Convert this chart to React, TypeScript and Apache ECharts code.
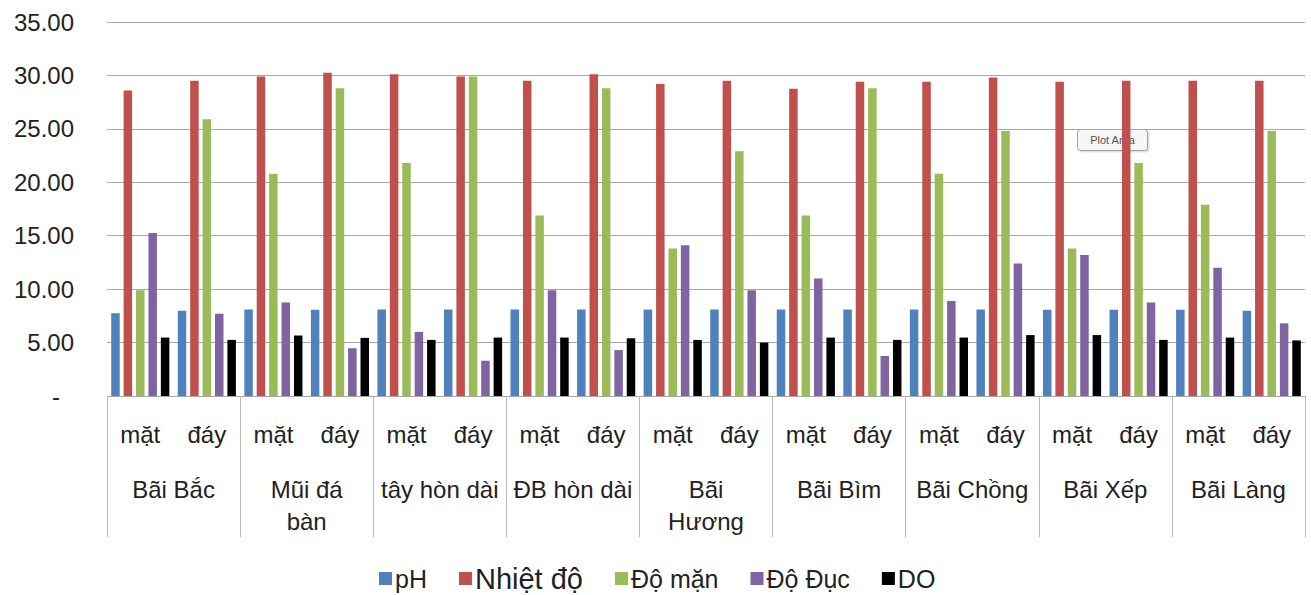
import React, { useEffect, useRef } from "react";
import * as echarts from "echarts";

const sites = [
  "Bãi Bắc",
  "Mũi đá\nbàn",
  "tây hòn dài",
  "ĐB hòn dài",
  "Bãi\nHương",
  "Bãi Bìm",
  "Bãi Chồng",
  "Bãi Xếp",
  "Bãi Làng",
];
const depths = [
  "mặt", "đáy", "mặt", "đáy", "mặt", "đáy", "mặt", "đáy", "mặt",
  "đáy", "mặt", "đáy", "mặt", "đáy", "mặt", "đáy", "mặt", "đáy",
];
const yTicks = [0, 5, 10, 15, 20, 25, 30, 35];

const pH = [7.75, 7.97, 8.1, 8.06, 8.1, 8.1, 8.1, 8.1, 8.1, 8.1, 8.1, 8.1, 8.1, 8.1, 8.06, 8.06, 8.06, 7.97];
const nhietDo = [28.6, 29.5, 29.9, 30.25, 30.1, 29.9, 29.5, 30.1, 29.2, 29.5, 28.75, 29.4, 29.4, 29.8, 29.4, 29.5, 29.5, 29.5];
const doMan = [9.9, 25.9, 20.8, 28.8, 21.8, 29.9, 16.9, 28.8, 13.8, 22.9, 16.9, 28.8, 20.8, 24.8, 13.8, 21.8, 17.9, 24.8];
const doDuc = [15.25, 7.7, 8.75, 4.47, 6.0, 3.3, 9.9, 4.3, 14.1, 9.9, 11.0, 3.75, 8.9, 12.4, 13.2, 8.75, 12.0, 6.8];
const DO = [5.47, 5.25, 5.66, 5.44, 5.25, 5.47, 5.47, 5.4, 5.25, 5.0, 5.47, 5.25, 5.47, 5.7, 5.7, 5.25, 5.47, 5.2];

const seriesNames = ["pH", "Nhiệt độ", "Độ mặn", "Độ Đục", "DO"];
const seriesData = [pH, nhietDo, doMan, doDuc, DO];
const colors = ["#4F81BD", "#C0504D", "#9BBB59", "#8064A2", "#000000"];

const FONT = "'Liberation Sans', Arial, sans-serif";

export default function App() {
  const ref = useRef<HTMLDivElement>(null);
  useEffect(() => {
    if (!ref.current) return;
    const chart = echarts.init(ref.current, undefined, { renderer: "svg" });
    chart.setOption({
      animation: false,
      textStyle: { fontFamily: FONT },
      color: colors,
      grid: { left: 107, right: 6, top: 22, bottom: 199, containLabel: false },
      legend: {
        left: 379,
        top: 564,
        padding: 0,
        itemWidth: 13,
        itemHeight: 13,
        itemGap: 32,
        icon: "rect",
        textStyle: { fontSize: 25, color: "#222", fontFamily: FONT, padding: [0, 0, 0, -2] },
        data: seriesNames.map((n) =>
          n === "Nhiệt độ" ? { name: n, textStyle: { fontSize: 29 } } : { name: n }
        ),
      },
      xAxis: [
        {
          type: "category",
          data: depths,
          position: "bottom",
          axisLine: { show: false },
          axisTick: { show: false },
          axisLabel: {
            interval: 0,
            fontSize: 24,
            lineHeight: 24,
            margin: 26,
            color: "#222",
            fontFamily: FONT,
          },
        },
        {
          type: "category",
          data: sites,
          position: "bottom",
          axisLine: { show: false },
          axisTick: {
            show: true,
            alignWithLabel: false,
            interval: 0,
            length: 141,
            lineStyle: { color: "#b8b8b8", width: 1 },
          },
          axisLabel: {
            interval: 0,
            fontSize: 24,
            lineHeight: 32,
            margin: 77,
            color: "#222",
            fontFamily: FONT,
          },
        },
      ],
      yAxis: {
        type: "value",
        min: 0,
        max: 35,
        interval: 5,
        axisLine: { show: false },
        axisTick: { show: false },
        splitLine: { lineStyle: { color: "#a8a8a8", width: 1 } },
        axisLabel: {
          fontSize: 24,
          margin: 33,
          color: "#222",
          fontFamily: FONT,
          formatter: (v: number) =>
            yTicks.indexOf(v) === 0 ? "{z|-}" : v.toFixed(2),
          rich: { z: { fontSize: 24, padding: [0, 14, 0, 0], color: "#222" } },
        },
      },
      series: seriesNames.map((name, i) => ({
        name,
        type: "bar",
        xAxisIndex: 0,
        data: seriesData[i],
        barWidth: 8.5,
        barGap: "46%",
        itemStyle: { color: colors[i] },
      })),
      graphic: [
        {
          type: "group",
          left: 1077,
          top: 129,
          children: [
            {
              type: "rect",
              shape: { x: 2, y: 2, width: 70, height: 21, r: 3 },
              style: { fill: "rgba(0,0,0,0.12)" },
            },
            {
              type: "rect",
              shape: { x: 0, y: 0, width: 70, height: 21, r: 3 },
              style: { fill: "#f6f6f6", stroke: "#a0a0a0", lineWidth: 1 },
            },
            {
              type: "text",
              x: 35,
              y: 10.5,
              style: {
                text: "Plot Area",
                fontSize: 11,
                fontFamily: FONT,
                fill: "#555",
                align: "center",
                verticalAlign: "middle",
              },
            },
          ],
        },
      ],
    });
    return () => chart.dispose();
  }, []);
  return (
    <div
      ref={ref}
      style={{ position: "fixed", left: 0, top: 0, width: 1311, height: 595, background: "#fff" }}
    />
  );
}
